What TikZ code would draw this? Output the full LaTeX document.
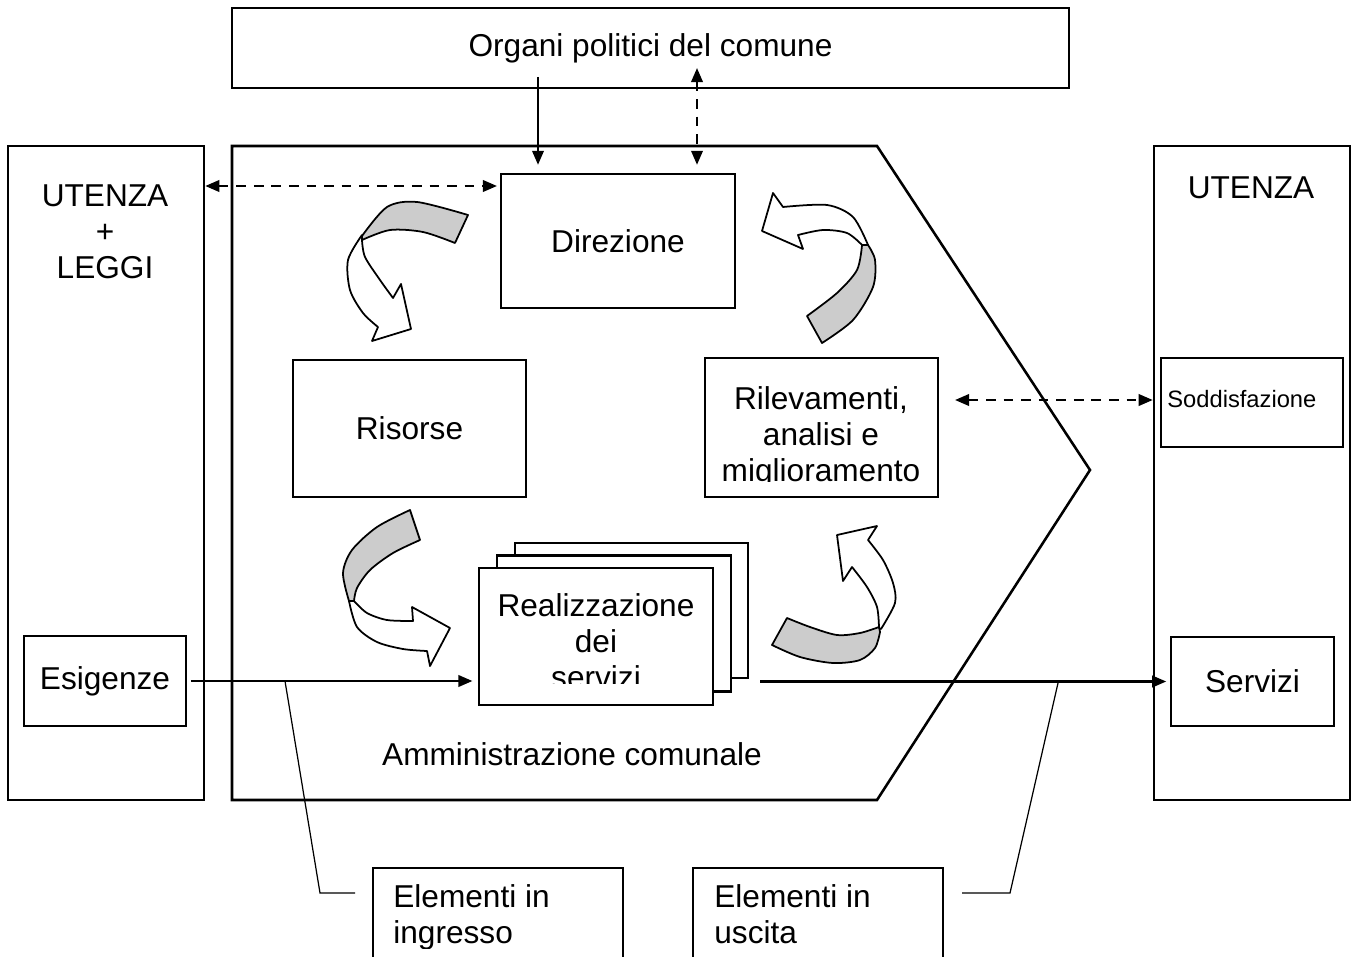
\documentclass[tikz,border=0pt]{standalone}
\usepackage{fontspec}
\setmainfont{Liberation Sans}
\usetikzlibrary{arrows.meta}
\definecolor{bandgray}{RGB}{204,204,204}
\begin{document}
\begin{tikzpicture}[x=0.02cm,y=-0.02cm,
  box/.style={draw,line width=1.45pt,fill=white,inner sep=0pt},
  txt/.style={font=\fontsize{18}{20.5}\selectfont,inner sep=0pt,align=center},
  smalltxt/.style={font=\fontsize{13.5}{16}\selectfont,inner sep=0pt},
  arr/.style={line width=1.35pt,-{Triangle[length=8pt,width=6.5pt]}},
  darr/.style={line width=1.35pt,dash pattern=on 5.5pt off 4.5pt,{Triangle[length=8pt,width=6.5pt]}-{Triangle[length=8pt,width=6.5pt]}},
  callout/.style={line width=0.7pt},
  band/.style={draw,line width=1pt,fill=bandgray,line join=round},
  body/.style={draw,line width=1pt,fill=white,line join=round}]
\useasboundingbox (0,0) rectangle (1354,956);
\clip (0,0) rectangle (1354,956);

% Amministrazione comunale (pentagon)
\draw[line width=1.45pt] (232,146) -- (877,146) -- (1090,470) -- (877,800) -- (232,800) -- cycle;
\node[txt] (amm) at (572,754) {Amministrazione comunale};

% top box
\node[box,txt,minimum width=16.74cm,minimum height=1.6cm] (org) at (650.5,48) {Organi politici del comune};

% left column
\node[box,minimum width=3.92cm,minimum height=13.08cm] (utL) at (106,473) {};
\node[txt] (utLT) at (105,232) {UTENZA\\+\\LEGGI};
\node[box,txt,minimum width=3.24cm,minimum height=1.8cm] (esig) at (105,681) {Esigenze};

% right column
\node[box,minimum width=3.92cm,minimum height=13.08cm] (utR) at (1252,473) {};
\node[txt] (utRT) at (1251,188) {UTENZA};
\node[box,minimum width=3.64cm,minimum height=1.78cm] (sodd) at (1252,402.5) {};
\node[smalltxt,anchor=west] (soddT) at (1167,399) {Soddisfazione};
\node[box,txt,minimum width=3.26cm,minimum height=1.78cm] (serv) at (1252.5,681.5) {Servizi};

% inner boxes
\node[box,txt,minimum width=4.68cm,minimum height=2.68cm] (dir) at (618,241) {Direzione};
\node[box,txt,minimum width=4.66cm,minimum height=2.74cm] (ris) at (409.5,428.5) {Risorse};
\node[box,minimum width=4.66cm,minimum height=2.78cm] (ril) at (821.5,427.5) {};
\begin{scope}
  \clip (706,359) rectangle (937,481);
  \node[txt] (rilT) at (821,437) {Rilevamenti,\\analisi e\\miglioramento};
\end{scope}

% stacked Realizzazione boxes
\node[box,minimum width=4.66cm,minimum height=2.7cm] (realC) at (631.5,610.5) {};
\node[box,minimum width=4.68cm,minimum height=2.72cm] (realB) at (614,623.5) {};
\node[box,minimum width=4.68cm,minimum height=2.74cm] (realA) at (596,636.5) {};
\begin{scope}
  \clip (480,569) rectangle (712,683);
  \node[txt] (realT) at (596,641) {Realizzazione\\dei\\servizi};
\end{scope}

% bottom boxes
\node[box,minimum width=5cm,minimum height=2.64cm] (ing) at (498,934) {};
\node[box,minimum width=5cm,minimum height=2.64cm] (usc) at (818,934) {};
\begin{scope}
  \clip (374,869) rectangle (942,948);
  \node[txt,align=left,anchor=north west] (ingT) at (393,884) {Elementi in\\ingresso};
  \node[txt,align=left,anchor=north west] (uscT) at (714,884) {Elementi in\\uscita};
\end{scope}

% connectors
\coordinate (o1) at (538,77);
\draw[arr,shorten >=4.5pt] (o1) -- (dir.north -| o1);
\coordinate (o2) at (697,68);
\draw[darr,shorten >=4.5pt] (o2) -- (dir.north -| o2);
\coordinate (dL) at (497,186);
\draw[darr] (utL.east |- dL) -- (dL);
\coordinate (dR) at (955,400);
\draw[darr] (dR) -- (utR.west |- dR);
\draw[arr,shorten <=2pt,shorten >=3pt] (esig.east) -- (realA.west |- esig.east);
\coordinate (sv) at (760,681.5);
\draw[arr,shorten >=2pt] (sv) -- (serv.west);

% callout lines
\coordinate (ci1) at (285,681);
\coordinate (ci2) at (320,893);
\coordinate (ci3) at (355,893);
\draw[callout] (ci1) -- (ci2) -- (ci3);
\coordinate (cu1) at (1058,683);
\coordinate (cu2) at (1010,893);
\coordinate (cu3) at (962,893);
\draw[callout] (cu1) -- (cu2) -- (cu3);

% curved arrow 1 (Direzione -> Risorse)
\path[body] plot[smooth] coordinates {(362,235) (348,260) (350,290) (363,313) (378,327)}
  -- (372,341) -- (411,329) -- (401,284) -- (393,298)
  -- plot[smooth] coordinates {(393,298) (380,280) (365,257) (362,240)} -- cycle;
\path[band] plot[smooth] coordinates {(362,236) (387,207) (417,202) (468,215)}
  -- (455,243)
  -- plot[smooth] coordinates {(455,243) (423,232) (390,230) (362,240)} -- cycle;

% curved arrow 2 (Rilevamenti -> Direzione)
\path[body] plot[smooth] coordinates {(868,245) (853,217) (827,205) (783,207)}
  -- (773,193) -- (762,231) -- (803,249) -- (798,235)
  -- plot[smooth] coordinates {(798,235) (823,230) (847,233) (862,245)} -- cycle;
\path[band] (807,316) -- (822,343)
  -- plot[smooth] coordinates {(822,343) (853,320) (873,287) (875,260) (868,245)}
  -- (862,245)
  -- plot[smooth] coordinates {(862,245) (857,270) (837,293) (807,316)} -- cycle;

% curved arrow 3 (Risorse -> Realizzazione)
\path[body] plot[smooth] coordinates {(349,601) (357,627) (377,642) (403,649) (427,651)}
  -- (430,666) -- (450,628) -- (412,607) -- (413,621)
  -- plot[smooth] coordinates {(413,621) (387,620) (367,613) (354,601)} -- cycle;
\path[band] plot[smooth] coordinates {(410,510) (377,527) (352,550) (343,573) (349,601)}
  -- (354,601)
  -- plot[smooth] coordinates {(354,601) (357,588) (370,570) (393,553) (420,540)} -- cycle;

% curved arrow 4 (Realizzazione -> Rilevamenti)
\path[body] plot[smooth] coordinates {(881,629) (895,603) (893,583) (883,560) (868,540)}
  -- (877,526) -- (837,535) -- (843,581) -- (852,567)
  -- plot[smooth] coordinates {(852,567) (867,587) (877,607) (879,628)} -- cycle;
\path[band] (772,645) -- (787,618)
  -- plot[smooth] coordinates {(787,618) (810,627) (837,635) (860,633) (879,627)}
  -- plot[smooth] coordinates {(880,632) (875,648) (860,660) (833,663) (800,657) (772,645)} -- cycle;
\end{tikzpicture}
\end{document}
